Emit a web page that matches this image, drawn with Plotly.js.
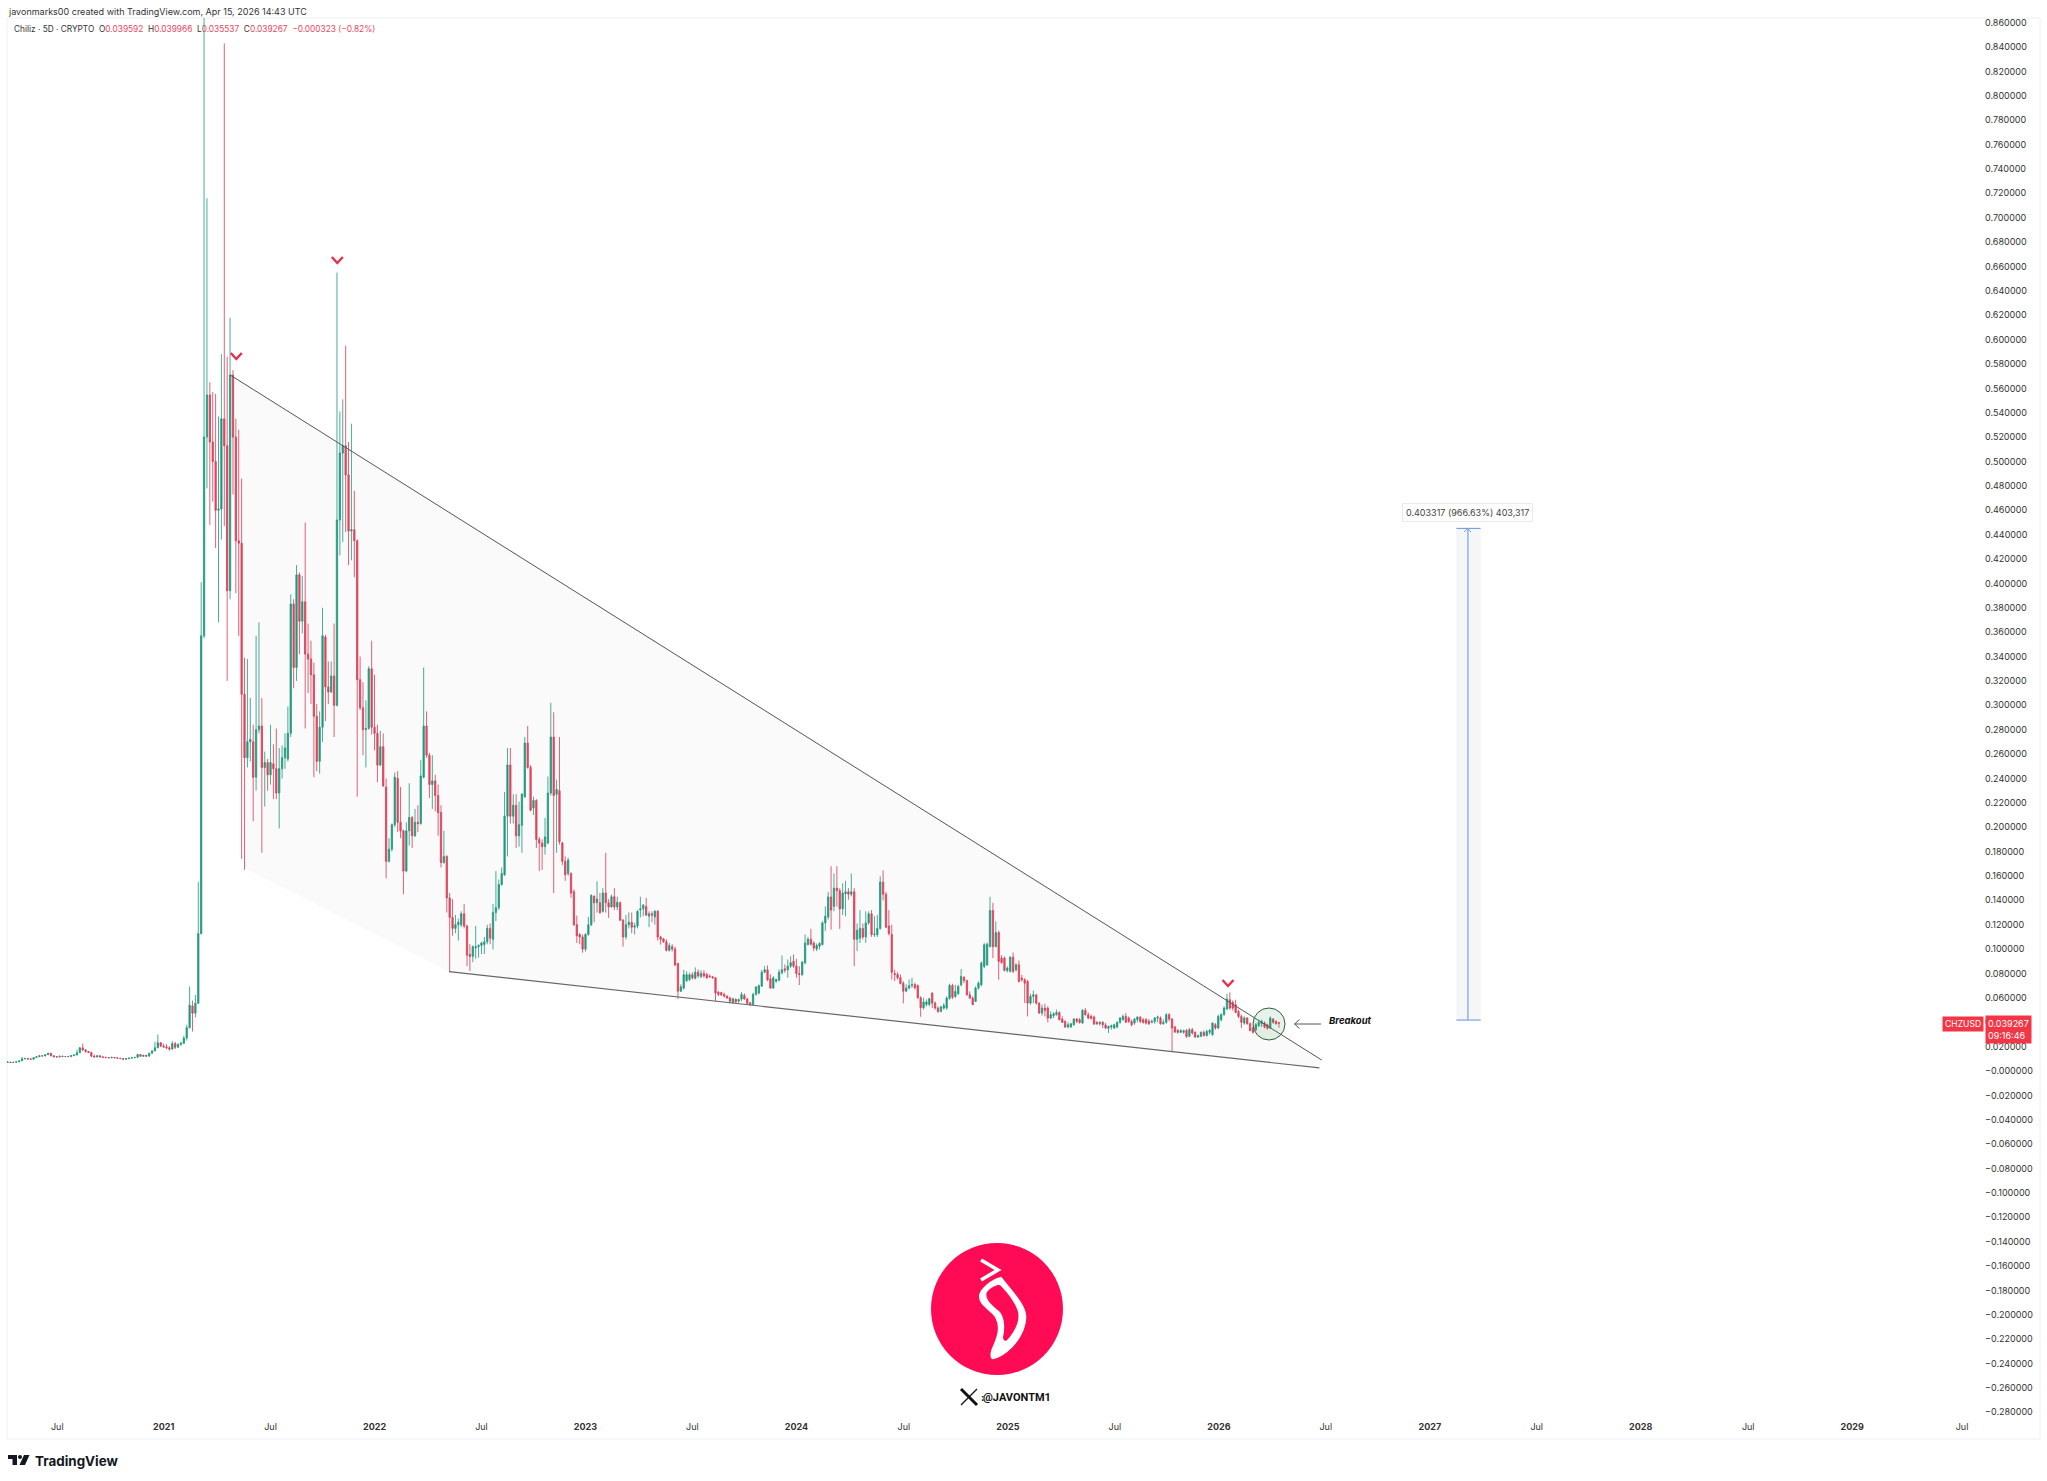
<!DOCTYPE html>
<html><head><meta charset="utf-8">
<script src="https://cdn.plot.ly/plotly-3.0.1.min.js"></script>
<style>html,body{margin:0;padding:0;background:#fff}#c{width:2047px;height:1481px}</style></head>
<body><div id="c"></div>
<script>
const firstBar = '2020-04-06';
const barDays = 5;
const opens = [
.0072,.0073,.0070,.0072,.0075,.0083,.0100,.0103,.0098,.0096,
.0110,.0117,.0125,.0123,.0134,.0145,.0125,.0117,.0115,.0122,
.0118,.0119,.0118,.0126,.0132,.0150,.0190,.0172,.0160,.0152,
.0122,.0115,.0125,.0115,.0113,.0110,.0108,.0112,.0108,.0105,
.0102,.0097,.0101,.0106,.0109,.0112,.0135,.0120,.0129,.0122,
.0145,.0165,.0190,.0232,.0205,.0198,.0190,.0180,.0225,.0195,
.0220,.0228,.0270,.0355,.0534,.0474,.0556,.1127,.357,.520,
.5545,.516,.500,.460,.461,.535,.513,.394,.571,.520,
.435,.433,.309,.257,.270,.270,.241,.280,.283,.249,
.253,.243,.252,.248,.228,.248,.257,.256,.277,.383,
.331,.407,.369,.385,.342,.338,.325,.291,.254,.282,
.356,.315,.311,.324,.300,.452,.507,.513,.489,.443,
.444,.435,.321,.298,.280,.281,.330,.282,.277,.251,
.266,.233,.172,.182,.202,.240,.204,.197,.164,.197,
.208,.193,.204,.203,.241,.283,.259,.235,.238,.226,
.212,.171,.176,.142,.126,.117,.120,.120,.129,.119,
.0956,.094,.101,.102,.103,.1038,.106,.117,.108,.130,
.134,.153,.161,.209,.251,.209,.218,.193,.2015,.225,
.269,.249,.2157,.222,.190,.187,.184,.187,.228,.274,
.227,.230,.187,.172,.162,.162,.147,.120,.112,.110,
.100,.112,.120,.1434,.138,.138,.131,.146,.138,.1346,
.143,.1346,.138,.124,.110,.120,.122,.118,.119,.132,
.133,.135,.127,.129,.1264,.131,.110,.1084,.106,.099,
.102,.100,.0882,.0655,.068,.074,.075,.079,.076,.0811,
.0773,.080,.0792,.078,.0773,.0765,.0647,.0643,.0628,.0615,
.060,.056,.0590,.0573,.059,.062,.059,.056,.0546,.0628,
.064,.0696,.081,.083,.0756,.068,.0737,.0745,.0806,.0838,
.083,.086,.0901,.086,.080,.0792,.0888,.1038,.108,.105,
.100,.1024,.1038,.1215,.1264,.1428,.135,.150,.148,.133,
.1455,.147,.145,.147,.108,.109,.117,.110,.1215,.129,
.1118,.1118,.117,.155,.145,.119,.112,.080,.0792,.0765,
.072,.0655,.068,.0702,.0710,.0700,.060,.0519,.0546,.0546,
.0639,.0557,.0516,.0489,.0516,.0516,.0595,.0702,.0612,.0634,
.0707,.077,.0743,.0626,.0598,.057,.068,.0707,.0858,.087,
.102,.1316,.102,.1136,.0926,.0926,.0825,.0817,.0934,.0830,
.0871,.0762,.0748,.0735,.0557,.0612,.0623,.0557,.0475,.0516,
.0516,.0434,.0454,.0462,.048,.0426,.0407,.0361,.0361,.0380,
.0426,.0421,.0393,.0497,.0462,.0448,.0443,.0399,.0388,.0399,
.0377,.0350,.0361,.0353,.0361,.0399,.0421,.0448,.0434,.0407,
.0393,.0421,.0443,.0421,.0421,.0410,.0399,.0407,.0434,.0434,
.0388,.0399,.0462,.0426,.0361,.0333,.0317,.0317,.0333,.0284,
.0339,.0317,.0279,.0284,.0317,.0290,.0317,.0298,.0380,.0353,
.0421,.0462,.0508,.0585,.0563,.0544,.0489,.0448,.0393,.0434,
.0388,.0353,.0339,.0372,.0388,.0394,.0380,.0352,.0426,.0407,.039592];
const highs = [
.0080,.0075,.0074,.0076,.0085,.0115,.0108,.0106,.0104,.0112,
.0120,.0128,.0130,.0136,.0150,.0148,.0128,.0121,.0123,.0125,
.0122,.0125,.0128,.0134,.0175,.0195,.0225,.0180,.0165,.0158,
.0135,.0128,.0128,.0120,.0116,.0115,.0116,.0114,.0111,.0107,
.0103,.0103,.0108,.0111,.0114,.0142,.0140,.0132,.0130,.0150,
.0170,.0240,.0300,.0235,.0225,.0220,.0205,.0245,.0240,.0225,
.0240,.0290,.0380,.0693,.0578,.0624,.155,.401,.93,.716,
.565,.557,.5554,.537,.588,.843,.586,.618,.575,.535,
.526,.486,.339,.338,.306,.284,.357,.368,.306,.262,
.256,.284,.268,.281,.265,.267,.277,.299,.391,.387,
.415,.409,.406,.450,.367,.353,.335,.301,.295,.380,
.358,.336,.336,.367,.655,.541,.551,.595,.516,.531,
.476,.436,.340,.319,.304,.332,.353,.325,.284,.279,
.277,.240,.191,.203,.245,.246,.233,.198,.204,.236,
.209,.215,.218,.255,.331,.295,.261,.259,.243,.235,
.218,.197,.177,.146,.141,.128,.125,.131,.137,.120,
.104,.103,.119,.104,.106,.110,.120,.121,.137,.164,
.157,.167,.229,.265,.265,.227,.227,.221,.228,.274,
.283,.251,.225,.223,.192,.190,.2075,.2416,.302,.2943,
.239,.274,.188,.176,.175,.163,.149,.1275,.113,.112,
.113,.1264,.145,.144,.1556,.146,.150,.179,.141,.1447,
.150,.143,.139,.124,.128,.130,.130,.1215,.132,.143,
.137,.142,.131,.131,.132,.132,.111,.109,.108,.105,
.104,.102,.0888,.071,.083,.0818,.0806,.081,.085,.0833,
.0827,.0827,.0806,.0792,.078,.077,.0655,.065,.0643,.062,
.0608,.0600,.0593,.0593,.0647,.0636,.0600,.0565,.0642,.0696,
.0710,.083,.086,.0866,.0792,.0778,.0757,.0833,.0948,.0874,
.0915,.0942,.0956,.0920,.0860,.0901,.112,.110,.1166,.1065,
.1046,.1056,.1229,.135,.147,.168,.162,.168,.150,.154,
.156,.150,.162,.150,.121,.132,.121,.131,.131,.132,
.127,.128,.1597,.1646,.147,.132,.120,.083,.0811,.0792,
.0737,.0710,.0751,.0765,.0724,.0710,.0614,.0601,.0588,.0601,
.0645,.0571,.0530,.0535,.0557,.0612,.0716,.0716,.0707,.0707,
.0836,.0776,.0748,.0653,.0612,.0694,.0735,.0899,.1049,.1054,
.143,.138,.1226,.1152,.095,.0940,.0858,.0940,.0972,.0885,
.0907,.0789,.0762,.0748,.0634,.066,.0634,.0563,.0544,.0552,
.0530,.0489,.0481,.0503,.0489,.0448,.0415,.0399,.0393,.0434,
.0434,.0434,.0508,.0516,.0481,.0462,.0454,.0410,.0407,.0410,
.0393,.0372,.0380,.0388,.0407,.0443,.0462,.0475,.0448,.0421,
.0434,.0448,.0448,.0434,.0434,.0426,.0421,.0443,.0454,.0448,
.0421,.0475,.0475,.0434,.0372,.0344,.0344,.0339,.0344,.0353,
.0353,.0325,.0298,.0325,.0333,.0339,.0344,.0399,.0393,.0462,
.0475,.0530,.0634,.0645,.0579,.0585,.0503,.0462,.0448,.0443,
.0399,.0366,.0394,.0421,.0421,.0407,.0388,.0448,.0434,.0415,.039966];
const lows = [
.0068,.0067,.0067,.0068,.0073,.0082,.0095,.0095,.0092,.0095,
.0108,.0115,.0120,.0122,.0132,.0120,.0113,.0112,.0113,.0115,
.0114,.0115,.0116,.0124,.0128,.0148,.0165,.0150,.0148,.0115,
.0112,.0112,.0112,.0108,.0107,.0105,.0105,.0105,.0103,.0099,
.0094,.0095,.0099,.0104,.0106,.0110,.0115,.0117,.0118,.0120,
.0142,.0162,.0188,.0195,.0190,.0180,.0165,.0175,.0180,.0190,
.0205,.0220,.0250,.0350,.0324,.0440,.055,.112,.355,.478,
.448,.467,.429,.368,.436,.447,.320,.387,.473,.392,
.357,.174,.165,.249,.254,.205,.230,.277,.179,.217,
.230,.235,.223,.223,.199,.240,.248,.254,.274,.314,
.320,.342,.359,.281,.310,.301,.241,.246,.244,.270,
.287,.301,.310,.274,.299,.423,.434,.442,.415,.419,
.405,.225,.296,.259,.249,.280,.276,.263,.237,.250,
.233,.158,.171,.180,.200,.196,.191,.145,.163,.185,
.183,.192,.196,.202,.240,.257,.224,.215,.213,.193,
.167,.170,.130,.081,.111,.113,.107,.118,.117,.086,
.082,.0893,.092,.093,.096,.096,.104,.104,.0997,.123,
.132,.152,.160,.176,.203,.203,.183,.184,.179,.224,
.248,.213,.210,.183,.164,.165,.1775,.186,.226,.146,
.179,.1857,.169,.156,.160,.142,.119,.105,.104,.097,
.098,.111,.119,.122,.130,.129,.130,.130,.1256,.134,
.132,.132,.123,.102,.108,.117,.113,.112,.117,.126,
.127,.127,.118,.122,.120,.107,.1037,.1052,.098,.098,
.098,.086,.059,.0648,.0668,.0733,.0738,.075,.0751,.0765,
.0765,.0765,.0757,.0765,.0757,.0573,.0615,.0615,.0601,.0593,
.0555,.0555,.0560,.0560,.0573,.0587,.0546,.0535,.0538,.0620,
.0628,.0690,.0805,.0737,.0675,.0675,.0724,.0737,.0792,.0806,
.0765,.0847,.0847,.0765,.0705,.0778,.0874,.1029,.1029,.0983,
.0983,.0997,.1029,.115,.1242,.116,.131,.135,.1166,.128,
.127,.1405,.1433,.086,.0983,.105,.108,.105,.120,.110,
.110,.110,.116,.140,.1174,.1112,.075,.0737,.0751,.0710,
.0555,.0647,.0670,.0683,.0670,.0592,.0445,.0505,.0530,.0530,
.0516,.0503,.0476,.0481,.0503,.0503,.0585,.0590,.0598,.0626,
.0694,.0721,.0617,.0590,.0544,.0566,.0667,.0694,.0844,.0863,
.1016,.0926,.1016,.0748,.0879,.0817,.0809,.0809,.0803,.0817,
.0727,.0735,.0557,.0448,.0544,.0557,.0544,.0470,.0454,.0448,
.0399,.0426,.0434,.0454,.0415,.0394,.0353,.0350,.0355,.0372,
.0393,.0388,.0388,.0454,.0426,.0421,.0377,.0377,.0372,.0352,
.0344,.0312,.0339,.0344,.0350,.0388,.0413,.0399,.0394,.0366,
.0380,.0399,.0393,.0388,.0380,.0377,.0393,.0388,.0399,.0380,
.0380,.0388,.0407,.0161,.0312,.0306,.0312,.0306,.0271,.0279,
.0298,.0271,.0271,.0279,.0284,.0284,.0298,.0290,.0339,.0344,
.0407,.0454,.0503,.0503,.0497,.0475,.0434,.0353,.0380,.0380,
.0325,.0306,.0325,.0361,.0361,.0350,.0339,.0344,.0388,.0380,.035537];
const closes = [
.0073,.0070,.0072,.0075,.0083,.0100,.0103,.0098,.0096,.0110,
.0117,.0125,.0123,.0134,.0145,.0125,.0117,.0115,.0122,.0118,
.0119,.0118,.0126,.0132,.0150,.0190,.0172,.0160,.0152,.0122,
.0115,.0125,.0115,.0113,.0110,.0108,.0112,.0108,.0105,.0102,
.0097,.0101,.0106,.0109,.0112,.0135,.0120,.0129,.0122,.0145,
.0165,.0190,.0232,.0205,.0198,.0190,.0180,.0225,.0195,.0220,
.0228,.0270,.0355,.0540,.0474,.0556,.1127,.357,.520,.5545,
.516,.500,.460,.461,.535,.513,.394,.571,.520,.435,
.433,.309,.257,.270,.272,.241,.280,.283,.249,.253,
.243,.253,.248,.228,.248,.257,.265,.277,.383,.331,
.407,.369,.385,.342,.338,.325,.291,.254,.282,.357,
.315,.311,.324,.300,.452,.507,.513,.489,.443,.444,
.435,.321,.298,.280,.281,.330,.282,.277,.251,.266,
.234,.172,.182,.202,.241,.204,.197,.164,.197,.208,
.193,.204,.203,.242,.283,.259,.235,.238,.226,.212,
.171,.176,.142,.126,.117,.120,.122,.129,.119,.095,
.094,.102,.102,.103,.105,.106,.117,.109,.130,.134,
.153,.162,.209,.251,.209,.218,.193,.202,.227,.269,
.249,.214,.222,.190,.187,.184,.192,.228,.274,.226,
.231,.188,.172,.161,.173,.146,.120,.111,.110,.100,
.112,.120,.144,.138,.141,.130,.146,.138,.1346,.143,
.1346,.1384,.1237,.110,.120,.122,.118,.119,.131,.133,
.136,.128,.129,.128,.131,.110,.108,.106,.099,.103,
.100,.087,.0655,.069,.079,.079,.079,.0765,.0811,.078,
.080,.078,.0765,.0773,.0765,.064,.0628,.0625,.0615,.0598,
.0573,.0593,.0566,.0587,.0628,.059,.0555,.0546,.0628,.069,
.070,.081,.083,.075,.068,.0764,.075,.081,.083,.0827,
.086,.0888,.086,.080,.0792,.0893,.105,.108,.104,.101,
.103,.1046,.1215,.127,.1428,.132,.150,.148,.133,.146,
.147,.145,.147,.108,.1155,.117,.110,.1215,.129,.112,
.1122,.117,.155,.145,.118,.1128,.081,.0792,.0765,.0718,
.0655,.068,.070,.0708,.0683,.0601,.0519,.0566,.0566,.0593,
.0557,.0516,.0489,.0525,.0538,.0598,.0702,.0606,.0653,.0694,
.0776,.0743,.0626,.0598,.0544,.068,.072,.0885,.1035,.104,
.1316,.102,.1136,.0899,.0890,.0825,.0844,.0934,.0817,.0871,
.0735,.0748,.072,.0557,.0612,.0626,.0557,.0475,.0516,.0497,
.0434,.0462,.0470,.048,.0421,.0399,.0361,.0380,.0388,.0426,
.0407,.0399,.0497,.0462,.0434,.0432,.0385,.0388,.0399,.0380,
.0353,.0366,.0372,.0380,.0399,.0434,.0448,.0399,.0407,.0380,
.0426,.0443,.0407,.0399,.0393,.0388,.0407,.0434,.0443,.0388,
.0399,.0462,.0426,.0353,.0320,.0317,.0331,.0331,.0284,.0339,
.0312,.0279,.0290,.0317,.0290,.0325,.0333,.0393,.0353,.0448,
.0462,.0516,.059,.0516,.0516,.048,.0448,.0399,.0434,.0388,
.0333,.0317,.038,.0399,.0407,.0361,.0350,.0434,.0399,.0388,.039267];
if (new Set([opens.length,highs.length,lows.length,closes.length]).size!==1) throw new Error('length '+[opens.length,highs.length,lows.length,closes.length]);

const jul = 'Jul';
const timeTickDates = ['2020-07-01','2021-01-01','2021-07-05','2022-01-01','2022-07-05','2023-01-01','2023-07-05','2024-01-01','2024-07-05','2025-01-01','2025-07-05','2026-01-01','2026-07-05','2027-01-01','2027-07-05','2028-01-01','2028-07-05','2029-01-01','2029-07-10'];
const timeTickText = [jul,'<b>2021</b>',jul,'<b>2022</b>',jul,'<b>2023</b>',jul,'<b>2024</b>',jul,'<b>2025</b>',jul,'<b>2026</b>',jul,'<b>2027</b>',jul,'<b>2028</b>',jul,'<b>2029</b>',jul];

const upperLineDates = ['2021-04-26','2026-06-28'];
const upperLinePrices = [.571,.009];
const lowerLineDates = ['2022-05-10','2026-06-24'];
const lowerLinePrices = [.0815,.0025];
const wedgeDates = ['2021-04-26','2026-06-28','2026-06-24','2022-05-10','2021-05-20'];
const wedgePrices = [.571,.009,.0025,.0815,.1665];
const measureLow = .0418, measureHigh = .4451;

const GREEN='#1f9f78', RED='#f0485f', GREENW='rgba(31,150,125,0.8)', REDW='rgba(215,60,85,0.8)', CHEV='#e8304a';

const L=7,R=1984,T=18,B=1420;
const px=x=>(x-L)/(R-L), py=y=>(B-y)/(B-T);
const P=(x,y)=>px(x).toFixed(5)+','+py(y).toFixed(5);

const dates=opens.map((_,i)=>{const d=new Date(firstBar+'T00:00:00Z');d.setUTCDate(d.getUTCDate()+i*barDays);return d.toISOString().slice(0,10);});
const priceTicks=[],priceLabels=[];
for(let k=43;k>=-14;k--){const v=k*0.02;priceTicks.push(v);priceLabels.push(k===0?'\u22120.000000':(k<0?'\u2212':'')+Math.abs(v).toFixed(6));}

const traces=[
 {type:'candlestick',x:dates,open:opens,high:highs,low:lows,close:closes,whiskerwidth:0,showlegend:false,
  increasing:{line:{color:GREENW,width:1},fillcolor:GREEN},decreasing:{line:{color:REDW,width:1},fillcolor:RED}},
 {type:'scatter',mode:'lines',x:upperLineDates,y:upperLinePrices,line:{color:'#555',width:1},hoverinfo:'skip',showlegend:false},
 {type:'scatter',mode:'lines',x:lowerLineDates,y:lowerLinePrices,line:{color:'#666',width:1.2},hoverinfo:'skip',showlegend:false}
];

function pshape(path,o){return Object.assign({type:'path',xref:'paper',yref:'paper',path:path,line:{width:0}},o||{});}
function chevron(x,y){return pshape('M'+P(x-5.5,y-3)+' L'+P(x,y+3)+' L'+P(x+5.5,y-3),{line:{color:CHEV,width:2.4}});}
const LX=997,LY=1309;
const Q=(pts)=>pts.map(a=>P(LX+a[0],LY-a[1])).join(' ');
const chiliOuter='M'+Q([[4.3,32.3]])+' C'+Q([[16,17.3],[29.3,4],[29.3,-7.7]])+' C'+Q([[29.3,-26],[12.7,-46],[-4,-50.3]])+' C'+Q([[-7,-50],[-7,-45],[-5.7,-41]])+' C'+Q([[-.7,-29.3],[4.3,-19],[-2.3,-7.7]])+' C'+Q([[-7.3,-1],[-18,4],[-18,12.3]])+' C'+Q([[-18,20.7],[-4,30.7],[4.3,32.3]])+' Z';
const chiliInner='M'+Q([[0,23.7]])+' C'+Q([[-5,22],[-11,18],[-10.7,14]])+' C'+Q([[-10.5,8],[-3,2],[2,-2]])+' C'+Q([[8,-8],[8,-20],[6,-28]])+' C'+Q([[6,-32],[9,-33],[11,-30]])+' C'+Q([[18,-22],[23,-12],[21,-3]])+' C'+Q([[19,6],[9,18],[4,23]])+' C'+Q([[3,24],[1,24],[0,23.7]])+' Z';
const wedgePath='M'+wedgeDates.map((d,i)=>d+','+wedgePrices[i]).join(' L')+' Z';

const shapes=[
 {type:'path',xref:'x',yref:'y',path:wedgePath,fillcolor:'#fafafa',line:{width:0},layer:'below'},
 {type:'rect',xref:'paper',yref:'paper',x0:px(7),x1:px(2040),y0:py(1439),y1:py(18),line:{color:'#eef0f3',width:1},layer:'below'},
 chevron(236.3,356),chevron(337.3,260),chevron(1228,983),
 {type:'circle',xref:'paper',yref:'paper',x0:px(1253),x1:px(1285),y0:py(1040),y1:py(1008),line:{color:'#2f5d3f',width:1},fillcolor:'rgba(60,150,80,0.12)'},
 pshape('M'+P(1321,1024)+' L'+P(1294.5,1024)+' M'+P(1299.5,1019.5)+' L'+P(1294.5,1024)+' L'+P(1299.5,1028.5),{line:{color:'#555',width:1}}),
 {type:'rect',xref:'x',yref:'y',x0:'2027-02-16',x1:'2027-03-30',y0:measureLow,y1:measureHigh,fillcolor:'rgba(235,237,242,0.5)',line:{width:0},layer:'below'},
 {type:'line',xref:'x',yref:'y',x0:'2027-03-08',x1:'2027-03-08',y0:measureLow,y1:measureHigh,line:{color:'#7b9fe6',width:1.2}},
 {type:'line',xref:'x',yref:'y',x0:'2027-02-16',x1:'2027-03-30',y0:measureLow,y1:measureLow,line:{color:'#7b9fe6',width:1.2}},
 {type:'line',xref:'x',yref:'y',x0:'2027-02-16',x1:'2027-03-30',y0:measureHigh,y1:measureHigh,line:{color:'#7b9fe6',width:1.2}},
 pshape('M'+P(1464,532)+' L'+P(1467.5,528.5)+' L'+P(1471,532),{line:{color:'#7b9fe6',width:1}}),
 {type:'circle',xref:'paper',yref:'paper',x0:px(LX-66),x1:px(LX+66),y0:py(LY+66),y1:py(LY-66),fillcolor:'#ff0a54',line:{width:0}},
 pshape('M'+Q([[-16,49]])+' L'+Q([[1,39]])+' L'+Q([[-16,29]]),{line:{color:'#fff',width:3.6}}),
 pshape(chiliOuter,{fillcolor:'#fff'}),
 pshape(chiliInner,{fillcolor:'#ff0a54'}),
 pshape('M'+P(961,1389)+' L'+P(977,1405),{line:{color:'#111',width:3}}),
 pshape('M'+P(977,1389)+' L'+P(961,1405),{line:{color:'#111',width:1.2}}),
 pshape('M'+P(8,1455)+' L'+P(17,1455)+' L'+P(17,1465)+' L'+P(12.5,1465)+' L'+P(12.5,1459)+' L'+P(8,1459)+' Z',{fillcolor:'#131722'}),
 {type:'circle',xref:'paper',yref:'paper',x0:px(18),x1:px(22),y0:py(1459),y1:py(1455),fillcolor:'#131722',line:{width:0}},
 pshape('M'+P(24,1455)+' L'+P(29.5,1455)+' L'+P(25,1465)+' L'+P(19.5,1465)+' Z',{fillcolor:'#131722'})
];

const FONT='Inter, "Noto Sans", sans-serif';
function note(x,y,text,o){return Object.assign({xref:'paper',yref:'paper',x:px(x),y:py(y),text:text,showarrow:false,xanchor:'left',yanchor:'middle',borderpad:0,font:{family:FONT,size:9,color:'#333'}},o||{});}
const R2='#e8475f';
const sp='\u00a0';
const annotations=[
 note(7,11,'javonmarks00 created with TradingView.com, Apr 15, 2026 14:43 UTC'),
 note(12.5,29.5,'Chiliz · 5D · CRYPTO'+sp+sp+'O<span style="color:'+R2+'">0.039592</span>'+sp+sp+'H<span style="color:'+R2+'">0.039966</span>'+sp+sp+'L<span style="color:'+R2+'">0.035537</span>'+sp+sp+'C<span style="color:'+R2+'">0.039267</span>'+sp+sp+'<span style="color:'+R2+'">\u22120.000323 (\u22120.82%)</span>',{font:{family:FONT,size:8.3,color:'#333'}}),
 note(1328,1020,'<b><i>Breakout</i></b>',{font:{family:FONT,size:9.5,color:'#111'}}),
 note(1467.5,512.5,'0.403317 (966.63%) 403,317',{xanchor:'center',bgcolor:'#fff',bordercolor:'#e9e9ee',borderwidth:1,borderpad:3,font:{family:FONT,size:9,color:'#444'}}),
 note(1963,1024,'CHZUSD',{xanchor:'center',bgcolor:'#f23645',borderpad:2,font:{family:FONT,size:8.6,color:'#fff'}}),
 note(2008,1029,'0.039267<br>09:16:46',{xanchor:'center',align:'left',bgcolor:'#f23645',borderpad:2,font:{family:FONT,size:9,color:'#fff'}}),
 note(979.5,1397,'<b>:</b>',{font:{family:FONT,size:10,color:'#111'}}),
 note(982,1397,'<b>@JAVONTM1</b>',{font:{family:'Roboto, sans-serif',size:11,color:'#111'}}),
 note(34,1461,'<b>TradingView</b>',{font:{family:FONT,size:13.4,color:'#131722'}})
];

const layout={
 width:2047,height:1481,paper_bgcolor:'#fff',plot_bgcolor:'#fff',showlegend:false,
 margin:{l:L,r:2047-R,t:T,b:1481-B,pad:0},boxgap:0.35,dragmode:false,
 xaxis:{type:'date',range:['2020-04-05','2029-08-17'],rangeslider:{visible:false},tickmode:'array',tickvals:timeTickDates,ticktext:timeTickText,
  showgrid:false,zeroline:false,showline:false,ticks:'',tickangle:0,automargin:false,tickfont:{family:FONT,size:9,color:'#333'}},
 yaxis:{side:'right',range:[(1071-1420)/1219,(1071-18)/1219],tickmode:'array',tickvals:priceTicks,ticktext:priceLabels,
  showgrid:false,zeroline:false,showline:false,ticks:'',automargin:false,tickfont:{family:FONT,size:9,color:'#333'}},
 shapes:shapes,annotations:annotations
};
Plotly.newPlot('c',traces,layout,{displayModeBar:false,staticPlot:true});
</script></body></html>
